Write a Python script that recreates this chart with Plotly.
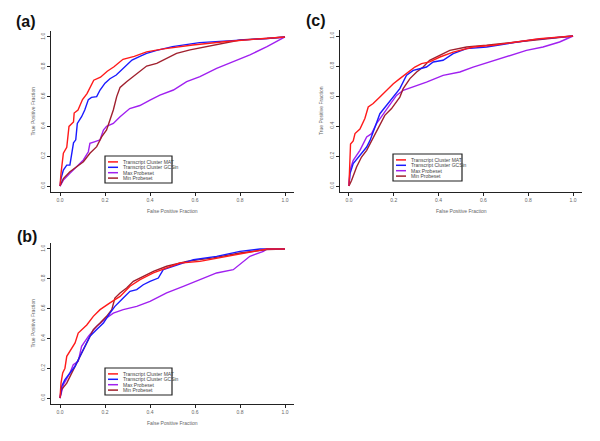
import plotly.graph_objects as go

W, H = 600, 441

series_names = ["Transcript Cluster MAT", "Transcript Cluster GCSin", "Max Probeset", "Min Probeset"]
series_colors = ["#FF1A1A", "#1A1AFF", "#A020F0", "#A0202E"]

# ---------- Panel (a) ----------
a_mat_x = [0, 0.0045, 0.015, 0.03, 0.04, 0.06, 0.063, 0.08, 0.1, 0.12, 0.15, 0.18, 0.21, 0.24, 0.28, 0.33, 0.385, 0.46, 0.59, 0.74, 0.86, 1.0]
a_mat_y = [0, 0.085, 0.22, 0.26, 0.40, 0.43, 0.49, 0.51, 0.58, 0.62, 0.71, 0.73, 0.77, 0.80, 0.85, 0.87, 0.90, 0.92, 0.946, 0.97, 0.984, 1.0]
a_gcs_x = [0, 0.0045, 0.015, 0.03, 0.044, 0.052, 0.06, 0.07, 0.077, 0.096, 0.11, 0.126, 0.14, 0.163, 0.178, 0.2, 0.222, 0.25, 0.28, 0.32, 0.355, 0.385, 0.43, 0.5, 0.62, 0.77, 0.92, 1.0]
a_gcs_y = [0, 0.05, 0.107, 0.14, 0.14, 0.22, 0.29, 0.31, 0.42, 0.465, 0.51, 0.58, 0.595, 0.60, 0.644, 0.69, 0.72, 0.745, 0.79, 0.845, 0.87, 0.89, 0.91, 0.935, 0.962, 0.975, 0.99, 1.0]
a_max_x = [0, 0.015, 0.044, 0.074, 0.104, 0.126, 0.133, 0.156, 0.178, 0.193, 0.207, 0.237, 0.267, 0.31, 0.355, 0.4, 0.444, 0.504, 0.563, 0.622, 0.696, 0.77, 0.844, 0.92, 1.0]
a_max_y = [0, 0.04, 0.085, 0.13, 0.175, 0.23, 0.286, 0.298, 0.31, 0.376, 0.40, 0.42, 0.465, 0.52, 0.54, 0.577, 0.61, 0.644, 0.70, 0.734, 0.79, 0.834, 0.88, 0.935, 1.0]
a_min_x = [0, 0.015, 0.044, 0.074, 0.104, 0.133, 0.163, 0.185, 0.207, 0.222, 0.237, 0.252, 0.267, 0.296, 0.326, 0.356, 0.385, 0.43, 0.474, 0.518, 0.578, 0.652, 0.711, 0.8, 0.92, 1.0]
a_min_y = [0, 0.05, 0.096, 0.13, 0.163, 0.22, 0.264, 0.33, 0.376, 0.443, 0.51, 0.60, 0.662, 0.70, 0.734, 0.767, 0.805, 0.823, 0.857, 0.89, 0.913, 0.935, 0.957, 0.98, 0.99, 1.0]

# ---------- Panel (b) ----------
b_mat_x = [0, 0.0045, 0.012, 0.022, 0.03, 0.044, 0.067, 0.081, 0.119, 0.148, 0.178, 0.222, 0.267, 0.311, 0.356, 0.415, 0.474, 0.533, 0.622, 0.74, 0.844, 0.92, 1.0]
b_mat_y = [0, 0.10, 0.168, 0.20, 0.28, 0.313, 0.37, 0.436, 0.49, 0.548, 0.593, 0.638, 0.682, 0.75, 0.794, 0.839, 0.872, 0.906, 0.917, 0.95, 0.978, 1.0, 1.0]
b_gcs_x = [0, 0.007, 0.022, 0.044, 0.067, 0.089, 0.111, 0.133, 0.163, 0.193, 0.222, 0.244, 0.281, 0.311, 0.341, 0.37, 0.4, 0.437, 0.459, 0.504, 0.593, 0.696, 0.8, 0.889, 1.0]
b_gcs_y = [0, 0.078, 0.123, 0.168, 0.213, 0.28, 0.347, 0.414, 0.459, 0.503, 0.57, 0.615, 0.671, 0.716, 0.727, 0.76, 0.783, 0.805, 0.861, 0.884, 0.928, 0.95, 0.984, 1.0, 1.0]
b_max_x = [0, 0.015, 0.044, 0.059, 0.081, 0.096, 0.126, 0.163, 0.207, 0.237, 0.281, 0.341, 0.4, 0.474, 0.548, 0.622, 0.696, 0.77, 0.844, 0.904, 0.92, 1.0]
b_max_y = [0, 0.089, 0.168, 0.224, 0.246, 0.347, 0.414, 0.481, 0.537, 0.57, 0.593, 0.615, 0.649, 0.705, 0.749, 0.794, 0.839, 0.861, 0.951, 0.984, 1.0, 1.0]
b_min_x = [0, 0.007, 0.03, 0.052, 0.074, 0.096, 0.126, 0.148, 0.178, 0.207, 0.23, 0.244, 0.267, 0.296, 0.326, 0.37, 0.415, 0.474, 0.563, 0.681, 0.8, 0.92, 1.0]
b_min_y = [0, 0.056, 0.10, 0.168, 0.235, 0.302, 0.391, 0.459, 0.503, 0.548, 0.593, 0.671, 0.705, 0.738, 0.783, 0.817, 0.85, 0.884, 0.917, 0.94, 0.973, 0.996, 1.0]

# ---------- Panel (c) ----------
c_mat_x = [0, 0.0045, 0.007, 0.019, 0.027, 0.049, 0.071, 0.086, 0.108, 0.138, 0.168, 0.198, 0.227, 0.257, 0.294, 0.324, 0.36, 0.406, 0.465, 0.554, 0.643, 0.747, 0.85, 1.0]
c_mat_y = [0, 0.215, 0.28, 0.30, 0.35, 0.38, 0.45, 0.527, 0.55, 0.593, 0.638, 0.682, 0.716, 0.75, 0.793, 0.816, 0.827, 0.86, 0.893, 0.927, 0.938, 0.96, 0.982, 1.0]
c_gcs_x = [0, 0.0045, 0.019, 0.042, 0.064, 0.079, 0.094, 0.116, 0.138, 0.168, 0.198, 0.227, 0.257, 0.287, 0.316, 0.346, 0.376, 0.42, 0.465, 0.525, 0.614, 0.703, 0.822, 1.0]
c_gcs_y = [0, 0.082, 0.149, 0.193, 0.227, 0.26, 0.304, 0.393, 0.482, 0.538, 0.593, 0.649, 0.738, 0.771, 0.782, 0.793, 0.827, 0.838, 0.882, 0.916, 0.927, 0.949, 0.976, 1.0]
c_max_x = [0, 0.0045, 0.019, 0.049, 0.079, 0.101, 0.123, 0.153, 0.183, 0.212, 0.242, 0.287, 0.346, 0.42, 0.495, 0.554, 0.629, 0.703, 0.792, 0.866, 0.94, 1.0]
c_max_y = [0, 0.104, 0.171, 0.238, 0.327, 0.349, 0.416, 0.482, 0.549, 0.604, 0.638, 0.66, 0.693, 0.738, 0.76, 0.793, 0.827, 0.86, 0.904, 0.927, 0.96, 1.0]
c_min_x = [0, 0.012, 0.034, 0.056, 0.079, 0.101, 0.131, 0.16, 0.19, 0.227, 0.242, 0.272, 0.302, 0.331, 0.36, 0.406, 0.45, 0.525, 0.614, 0.747, 0.88, 1.0]
c_min_y = [0, 0.038, 0.127, 0.193, 0.238, 0.304, 0.393, 0.471, 0.516, 0.593, 0.649, 0.716, 0.76, 0.793, 0.838, 0.871, 0.904, 0.927, 0.938, 0.96, 0.982, 1.0]

tick_vals = [0.0, 0.2, 0.4, 0.6, 0.8, 1.0]
tick_text = ["0.0", "0.2", "0.4", "0.6", "0.8", "1.0"]
panel_labels = ["(a)", "(b)", "(c)"]
x_title = "False Positive Fraction"
y_title = "True Positive Fraction"

panels = [
    dict(label=panel_labels[0], xa="x", ya="y",
         data=[(a_mat_x, a_mat_y), (a_gcs_x, a_gcs_y), (a_max_x, a_max_y), (a_min_x, a_min_y)],
         xpx=(51, 294), ypx=(192, 31), lab=(26, 21), leg=(105, 156, 172, 183)),
    dict(label=panel_labels[1], xa="x2", ya="y2",
         data=[(b_mat_x, b_mat_y), (b_gcs_x, b_gcs_y), (b_max_x, b_max_y), (b_min_x, b_min_y)],
         xpx=(51, 294), ypx=(404, 243), lab=(27, 236), leg=(105, 368, 172, 395)),
    dict(label=panel_labels[2], xa="x3", ya="y3",
         data=[(c_mat_x, c_mat_y), (c_gcs_x, c_gcs_y), (c_max_x, c_max_y), (c_min_x, c_min_y)],
         xpx=(340, 582), ypx=(192, 30), lab=(316, 20), leg=(393, 154, 462, 181)),
]

def px(x):
    return x / W

def py(y):
    return 1 - y / H

fig = go.Figure()
shapes = []
annotations = []
layout_axes = {}
font_family = "Liberation Sans, Arial, sans-serif"
text_grey = "#666"

for i, p in enumerate(panels):
    # draw order: Max, Min, GCSin, MAT (MAT on top)
    for k in [2, 3, 1, 0]:
        xs, ys = p["data"][k]
        fig.add_trace(go.Scatter(x=xs, y=ys, mode="lines", xaxis=p["xa"], yaxis=p["ya"],
                                 line=dict(color=series_colors[k], width=1.4, shape="linear"),
                                 name=series_names[k], showlegend=False, hoverinfo="skip"))
    xk = "xaxis" if p["xa"] == "x" else "xaxis" + p["xa"][1:]
    yk = "yaxis" if p["ya"] == "y" else "yaxis" + p["ya"][1:]
    common = dict(range=[-0.04, 1.04], tickvals=tick_vals, ticktext=tick_text,
                  showgrid=False, zeroline=False, showline=True, linecolor="#222",
                  linewidth=1, ticks="outside", ticklen=3, tickcolor="#222",
                  tickfont=dict(size=5, color=text_grey, family=font_family), fixedrange=True)
    layout_axes[xk] = dict(common, domain=[px(p["xpx"][0]), px(p["xpx"][1])], anchor=p["ya"])
    layout_axes[yk] = dict(common, domain=[py(p["ypx"][0]), py(p["ypx"][1])], anchor=p["xa"], tickangle=-90)

    # axis titles
    xc = (p["xpx"][0] + p["xpx"][1]) / 2
    yc = (p["ypx"][0] + p["ypx"][1]) / 2
    annotations.append(dict(x=px(xc), y=py(p["ypx"][0] + 19), xref="paper", yref="paper",
                            xanchor="center", yanchor="middle",
                            text=x_title, showarrow=False, font=dict(size=5, color=text_grey, family=font_family)))
    annotations.append(dict(x=px(p["xpx"][0] - 19), y=py(yc), xref="paper", yref="paper",
                            xanchor="center", yanchor="middle",
                            text=y_title, showarrow=False, textangle=-90,
                            font=dict(size=5, color=text_grey, family=font_family)))
    # panel label
    annotations.append(dict(x=px(p["lab"][0]), y=py(p["lab"][1]), xref="paper", yref="paper",
                            xanchor="center", yanchor="middle",
                            text="<b>" + p["label"] + "</b>", showarrow=False,
                            font=dict(size=16, color="#111", family=font_family)))
    # legend box
    x0, y0, x1, y1 = p["leg"]
    shapes.append(dict(type="rect", xref="paper", yref="paper", x0=px(x0), x1=px(x1),
                       y0=py(y1), y1=py(y0), layer="below",
                       line=dict(color="#222", width=1.2), fillcolor="rgba(0,0,0,0)"))
    step = (y1 - y0) / 5.0
    for k in range(4):
        yy = y0 + step * (k + 1) + 0.5
        shapes.append(dict(type="line", xref="paper", yref="paper", x0=px(x0 + 3), x1=px(x0 + 13),
                           y0=py(yy), y1=py(yy), line=dict(color=series_colors[k], width=1.5)))
        annotations.append(dict(x=px(x0 + 16), y=py(yy), xref="paper", yref="paper", xanchor="left",
                                yanchor="middle", text=series_names[k], showarrow=False,
                                font=dict(size=5, color="#444", family=font_family)))

fig.update_layout(width=W, height=H, margin=dict(l=0, r=0, t=0, b=0),
                  paper_bgcolor="white", plot_bgcolor="white",
                  shapes=shapes, annotations=annotations, showlegend=False, **layout_axes)

fig.write_html("out.html", config={"displayModeBar": False},
               post_script="document.body.style.margin='0';")
